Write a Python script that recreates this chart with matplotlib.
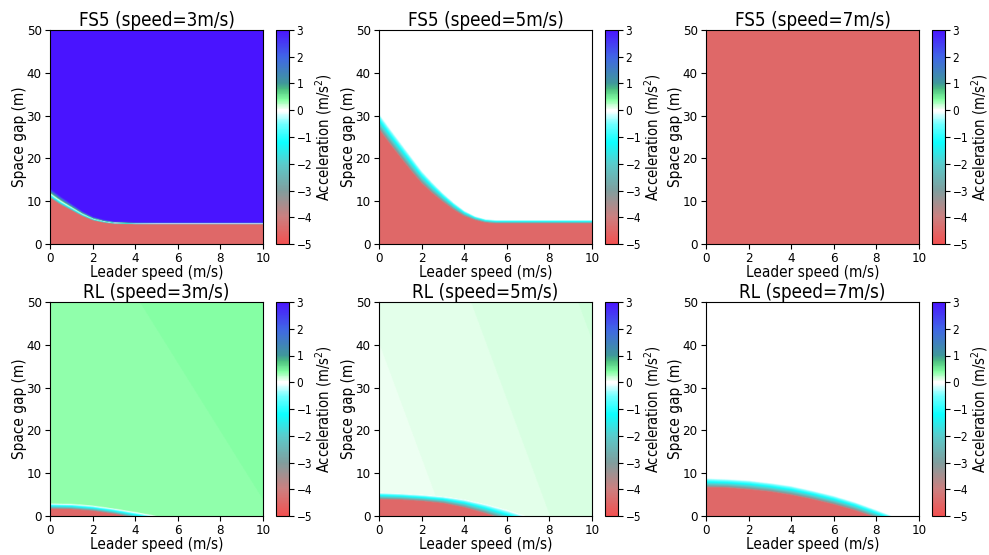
"""
Acceleration maps: FS5 vs RL controller over leader speed / space gap
"""

import matplotlib.pyplot as plt
import numpy as np
from matplotlib.colors import LinearSegmentedColormap

plt.rcParams['font.family'] = 'DejaVu Sans'
plt.rcParams['font.stretch'] = 'condensed'

# ---- data ----
titles = ["FS5 (speed=3m/s)", "FS5 (speed=5m/s)", "FS5 (speed=7m/s)",
          "RL (speed=3m/s)", "RL (speed=5m/s)", "RL (speed=7m/s)"]

# boundary between braking region (below) and the rest (above):
# leader speed points, gap where the ramp starts and where it ends
fs3_v = [0, 0.5, 1, 1.5, 2, 2.5, 3, 4, 5, 10]
fs3_lo = [10.6, 9.0, 7.7, 6.4, 5.4, 4.9, 4.6, 4.5, 4.5, 4.5]
fs3_hi = [12.9, 11.0, 9.3, 7.6, 6.3, 5.6, 5.2, 5.0, 4.95, 4.95]

fs5_v = [0, 0.5, 1, 1.5, 2, 2.5, 3, 3.5, 4, 4.5, 5, 5.5, 10]
fs5_lo = [26.5, 23.2, 20.0, 16.9, 14.0, 11.7, 9.7, 7.9, 6.4, 5.5, 4.9, 4.7, 4.7]
fs5_hi = [30.3, 26.9, 23.6, 20.3, 17.0, 14.3, 11.8, 9.6, 7.7, 6.4, 5.7, 5.5, 5.5]

fs7_v = [0, 10]
fs7_lo = [60, 60]
fs7_hi = [61, 61]

rl3_v = [0, 1, 2, 3, 4, 5, 6, 10]
rl3_lo = [1.6, 1.5, 1.1, 0.4, -0.6, -1.8, -3.0, -8.0]
rl3_hi = [2.9, 2.8, 2.4, 1.7, 0.9, 0.0, -1.0, -6.0]

rl5_v = [0, 1, 2, 3, 4, 5, 6, 7, 8]
rl5_lo = [3.8, 3.7, 3.4, 2.9, 1.9, 0.5, -1.2, -3.0, -5.0]
rl5_hi = [5.4, 5.2, 4.9, 4.5, 3.8, 2.7, 1.4, -0.2, -2.0]

rl7_v = [0, 1, 2, 3, 4, 5, 6, 7, 8, 9]
rl7_lo = [6.6, 6.5, 6.1, 5.6, 4.8, 3.8, 2.6, 1.2, -0.5, -2.5]
rl7_hi = [8.8, 8.6, 8.3, 7.7, 7.0, 5.9, 4.7, 3.2, 1.4, -0.5]

# acceleration below the boundary
below = [-4.5, -4.5, -4.5, -4.5, -4.5, -4.5]
# acceleration above the boundary, at corners (v=0,s=0), (v=10,s=0), (v=0,s=50), (v=10,s=50)
above = [[3.0, 3.0, 3.0, 3.0],
         [0.0, 0.0, 0.0, 0.0],
         [3.0, 3.0, 3.0, 3.0],
         [0.3489, 0.3739, 0.3645, 0.3895],
         [0.0752, 0.1372, 0.0982, 0.1602],
         [0.0, 0.0, 0.0, 0.0]]

bounds = [(fs3_v, fs3_lo, fs3_hi), (fs5_v, fs5_lo, fs5_hi), (fs7_v, fs7_lo, fs7_hi),
          (rl3_v, rl3_lo, rl3_hi), (rl5_v, rl5_lo, rl5_hi), (rl7_v, rl7_lo, rl7_hi)]

# ---- colormap ----
cstops = [(-5.0, (0.95, 0.32, 0.32)),
          (-4.0, (0.80, 0.50, 0.50)),
          (-3.0, (0.50, 0.62, 0.62)),
          (-2.0, (0.35, 0.80, 0.80)),
          (-1.2, (0.05, 1.00, 1.00)),
          (-0.5, (0.45, 1.00, 1.00)),
          (-0.03, (1.00, 1.00, 1.00)),
          (0.03, (1.00, 1.00, 1.00)),
          (0.4, (0.52, 1.00, 0.64)),
          (0.8, (0.30, 0.75, 0.50)),
          (1.0, (0.25, 0.60, 0.60)),
          (1.5, (0.25, 0.50, 0.75)),
          (2.0, (0.25, 0.40, 0.90)),
          (3.0, (0.29, 0.08, 1.00))]
cmap = LinearSegmentedColormap.from_list(
    "accel", [((a + 5) / 8, c) for a, c in cstops])

# ---- build grids ----
vv = np.linspace(0, 10, 300)
ss = np.linspace(0, 50, 300)
V, S = np.meshgrid(vv, ss)

fig = plt.figure(figsize=(9.89, 5.55), dpi=100)
W, H = 989, 555
col_left = [50, 379, 706]
row_top = [30, 302]
ax_w, ax_h = 213, 214

for k in range(6):
    r, c = divmod(k, 3)
    bv, blo, bhi = bounds[k]
    lo = np.interp(vv, bv, blo)[None, :]
    hi = np.interp(vv, bv, bhi)[None, :]
    t = np.clip((S - lo) / (hi - lo), 0, 1) ** 0.6
    a00, a10, a01, a11 = above[k]
    top = (a00 * (1 - V / 10) * (1 - S / 50) + a10 * (V / 10) * (1 - S / 50)
           + a01 * (1 - V / 10) * (S / 50) + a11 * (V / 10) * (S / 50))
    Z = below[k] + (top - below[k]) * t

    x0 = col_left[c]
    y0 = row_top[r]
    ax = fig.add_axes([x0 / W, 1 - (y0 + ax_h) / H, ax_w / W, ax_h / H])
    im = ax.imshow(Z, origin='lower', extent=[0, 10, 0, 50], aspect='auto',
                   cmap=cmap, vmin=-5, vmax=3, interpolation='bilinear')
    ax.set_xticks([0, 2, 4, 6, 8, 10])
    ax.set_yticks([0, 10, 20, 30, 40, 50])
    ax.tick_params(labelsize=9.5, pad=2.5)
    ax.set_xlabel("Leader speed (m/s)", fontsize=11, labelpad=0)
    ax.set_ylabel("Space gap (m)", fontsize=11, labelpad=0)
    ax.set_title(titles[k], fontsize=13.5, pad=3)

    cax = fig.add_axes([(x0 + 226) / W, 1 - (y0 + ax_h) / H, 13 / W, ax_h / H])
    cb = fig.colorbar(im, cax=cax, ticks=range(-5, 4))
    cb.ax.tick_params(labelsize=8.5, pad=2)
    cb.set_label("Acceleration (m/s$^2$)", fontsize=10.5, labelpad=1)

plt.savefig("out.png", dpi=100)
